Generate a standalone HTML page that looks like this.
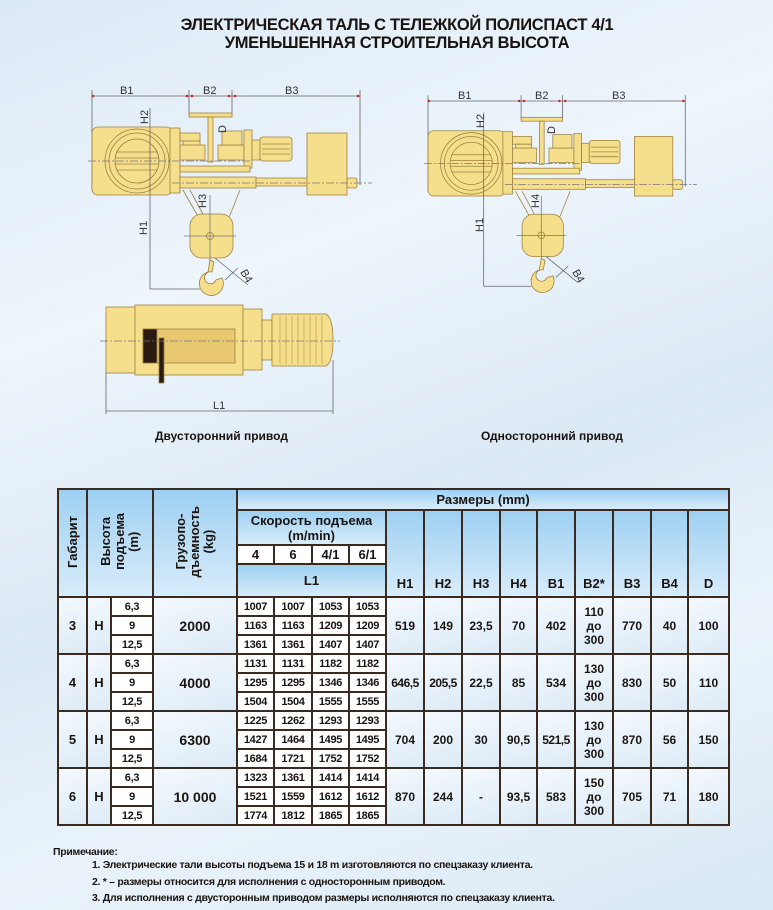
<!DOCTYPE html>
<html><head><meta charset="utf-8"><style>
body{margin:0;width:773px;height:910px;overflow:hidden;position:relative;font-family:"Liberation Sans",Arial,sans-serif;
background:linear-gradient(160deg,#dceaf6 0%,#eef5fb 30%,#dbe9f5 55%,#eaf3fa 75%,#d9e8f4 100%);}
.t{position:absolute;left:0;width:794px;text-align:center;font-weight:bold;font-size:16.5px;color:#1a1410;letter-spacing:-0.3px}
.cap{position:absolute;font-weight:bold;font-size:12px;color:#1a1410}
table{position:absolute;left:57px;top:488px;border-collapse:collapse;table-layout:fixed;width:671px}
td{border:2px solid #3a2a20;padding:0;text-align:center;font-size:12px;color:#1a1410;overflow:hidden;font-weight:bold}
.h{background:linear-gradient(#9ed0f2,#d8ecfa);font-weight:bold;font-size:13px}
.v{writing-mode:vertical-rl;transform:rotate(180deg);display:inline-block;line-height:14px;font-weight:bold;font-size:13px}
.b{background:linear-gradient(160deg,#f4f9fd,#dcebf7)}
.w{background:#fff;font-size:11px;letter-spacing:-0.3px}
.hb{vertical-align:bottom;padding-bottom:5px}
.n{position:absolute;left:88px;font-size:10.5px;color:#1a1410;font-weight:bold;letter-spacing:-0.3px;white-space:nowrap}
</style></head><body>
<div class="t" style="top:16px">ЭЛЕКТРИЧЕСКАЯ ТАЛЬ С ТЕЛЕЖКОЙ ПОЛИСПАСТ 4/1</div>
<div class="t" style="top:34px">УМЕНЬШЕННАЯ СТРОИТЕЛЬНАЯ ВЫСОТА</div>

<svg width="773" height="480" style="position:absolute;left:0;top:0" font-family="Liberation Sans,Arial,sans-serif">
<defs>
<g id="hoist" stroke="#9c8040" stroke-width="0.8" fill="#f6df8c">
 <line x1="92" y1="96" x2="360" y2="96" stroke="#666"/>
 <line x1="92" y1="90" x2="92" y2="190" stroke="#666"/>
 <line x1="189" y1="90" x2="189" y2="115" stroke="#666"/>
 <line x1="232" y1="90" x2="232" y2="115" stroke="#666"/>
 <line x1="360" y1="90" x2="360" y2="185" stroke="#666"/>
 <circle cx="93" cy="96" r="1.3" fill="#d02020" stroke="none"/><circle cx="187" cy="96" r="1.3" fill="#d02020" stroke="none"/>
 <circle cx="192" cy="96" r="1.3" fill="#d02020" stroke="none"/><circle cx="229" cy="96" r="1.3" fill="#d02020" stroke="none"/>
 <circle cx="235" cy="96" r="1.3" fill="#d02020" stroke="none"/><circle cx="358" cy="96" r="1.3" fill="#d02020" stroke="none"/>
 <rect x="189" y="113" width="43" height="4"/>
 <rect x="208" y="117" width="5" height="45"/>
 <rect x="92" y="127" width="80" height="68" rx="6"/>
 <circle cx="137" cy="161" r="32"/><circle cx="137" cy="161" r="28" fill="none"/><circle cx="137" cy="161" r="22"/>
 <line x1="117" y1="152" x2="157" y2="152"/><line x1="115" y1="158" x2="159" y2="158"/><line x1="115" y1="164" x2="159" y2="164"/><line x1="117" y1="170" x2="157" y2="170"/>
 <rect x="170" y="128" width="10" height="65"/>
 <rect x="180" y="133" width="20" height="8"/><rect x="183" y="141" width="17" height="18"/>
 <rect x="180" y="145" width="25" height="15"/>
 <rect x="218" y="145" width="26" height="15"/><rect x="222" y="131" width="20" height="14"/>
 <rect x="244" y="130" width="8" height="38"/>
 <rect x="252" y="140" width="8" height="20"/>
 <rect x="260" y="137" width="32" height="24" rx="3"/>
 <line x1="262" y1="149" x2="290" y2="149"/><line x1="262" y1="144" x2="290" y2="144"/><line x1="262" y1="154" x2="290" y2="154"/>
 <rect x="180" y="166" width="70" height="6"/>
 <rect x="180" y="177" width="76" height="11"/>
 <rect x="256" y="178" width="52" height="8"/>
 <rect x="307" y="133" width="40" height="62"/>
 <rect x="347" y="178" width="10" height="10" rx="2"/>
 <line x1="172" y1="183" x2="372" y2="183" stroke="#777" stroke-dasharray="8 2 2 2"/>
 <line x1="88" y1="161" x2="250" y2="161" stroke="#777" stroke-dasharray="8 2 2 2"/>
 <line x1="183" y1="190" x2="200" y2="220" /><line x1="190" y1="190" x2="205" y2="218"/>
 <line x1="240" y1="190" x2="228" y2="220"/>
 <rect x="190" y="214" width="43" height="44" rx="12"/>
 <circle cx="210" cy="236" r="3.5"/>
 <line x1="184" y1="236" x2="236" y2="236" stroke="#777"/>
 <line x1="210" y1="195" x2="210" y2="260" stroke="#777"/>
 <line x1="150" y1="108" x2="150" y2="289" stroke="#666"/>
 <line x1="150" y1="289" x2="200" y2="289" stroke="#666"/>
 <path d="M210 260 L208 272 A12 12 0 1 0 222 278 L216 280 A6 6 0 1 1 212 272 L214 262 Z"/>
 <line x1="215" y1="258" x2="248" y2="285" stroke="#666"/>
 <line x1="225" y1="280" x2="238" y2="268" stroke="#666"/>
</g>
</defs>
<use href="#hoist"/>
<text x="120" y="94" font-size="11" fill="#333">B1</text>
<text x="203" y="94" font-size="11" fill="#333">B2</text>
<text x="285" y="94" font-size="11" fill="#333">B3</text>
<text x="148" y="124" font-size="11" fill="#333" transform="rotate(-90 148 124)">H2</text>
<text x="147" y="235" font-size="11" fill="#333" transform="rotate(-90 147 235)">H1</text>
<text x="206" y="208" font-size="11" fill="#333" transform="rotate(-90 206 208)">H3</text>
<text x="226" y="133" font-size="11" fill="#333" transform="rotate(-90 226 133)">D</text>
<text x="240" y="272" font-size="11" fill="#333" transform="rotate(60 240 272)">B4</text>
<g transform="translate(428 101) scale(0.96) translate(-92 -96)"><use href="#hoist"/></g>
<text x="458" y="99" font-size="11" fill="#333">B1</text>
<text x="535" y="99" font-size="11" fill="#333">B2</text>
<text x="612" y="99" font-size="11" fill="#333">B3</text>
<text x="484" y="128" font-size="11" fill="#333" transform="rotate(-90 484 128)">H2</text>
<text x="483" y="232" font-size="11" fill="#333" transform="rotate(-90 483 232)">H1</text>
<text x="539" y="208" font-size="11" fill="#333" transform="rotate(-90 539 208)">H4</text>
<text x="555" y="134" font-size="11" fill="#333" transform="rotate(-90 555 134)">D</text>
<text x="572" y="272" font-size="11" fill="#333" transform="rotate(60 572 272)">B4</text>
<g stroke="#9c8040" stroke-width="0.8" fill="#f6df8c">
 <rect x="106" y="307" width="30" height="66"/>
 <rect x="135" y="305" width="108" height="70"/>
 <rect x="143" y="329" width="92" height="34" fill="#e8c870"/>
 <rect x="143" y="329" width="14" height="34" fill="#2a1a10"/>
 <rect x="159" y="338" width="5" height="45" fill="#2a1a10"/>
 <rect x="243" y="309" width="19" height="61"/>
 <rect x="262" y="320" width="10" height="40"/>
 <path d="M272 314 H326 Q333 318 333 340 Q333 362 326 366 H272 Z"/>
 <line x1="100" y1="341" x2="340" y2="341" stroke="#777" stroke-dasharray="8 2 2 2"/>
 <line x1="106" y1="373" x2="106" y2="414" stroke="#666"/>
 <line x1="333" y1="360" x2="333" y2="414" stroke="#666"/>
 <line x1="106" y1="411" x2="333" y2="411" stroke="#666"/>
</g>
<g stroke="#b89040" stroke-width="0.6">
<line x1="280" y1="316" x2="280" y2="364"/><line x1="286" y1="316" x2="286" y2="364"/><line x1="292" y1="316" x2="292" y2="364"/><line x1="298" y1="316" x2="298" y2="364"/><line x1="304" y1="316" x2="304" y2="364"/><line x1="310" y1="316" x2="310" y2="364"/><line x1="316" y1="316" x2="316" y2="364"/><line x1="322" y1="316" x2="322" y2="364"/>
</g>
<text x="213" y="409" font-size="11" fill="#333">L1</text>
</svg>
<div class="cap" style="left:155px;top:429px">Двусторонний привод</div>
<div class="cap" style="left:481px;top:429px">Односторонний привод</div>

<table>
<colgroup><col style="width:29px"><col style="width:24px"><col style="width:42px"><col style="width:84px"><col style="width:37px"><col style="width:38px"><col style="width:37px"><col style="width:37px"><col style="width:38px"><col style="width:38px"><col style="width:38px"><col style="width:37px"><col style="width:38px"><col style="width:38px"><col style="width:38px"><col style="width:37px"><col style="width:41px"></colgroup>
<tr style="height:21px"><td class="h" rowspan="4"><span class="v">Габарит</span></td><td class="h" colspan="2" rowspan="4"><span class="v">Высота<br>подъема<br>(m)</span></td><td class="h" rowspan="4"><span class="v">Грузопо-<br>дъемность<br>(kg)</span></td><td class="h" colspan="13">Размеры (mm)</td></tr>
<tr style="height:35px"><td class="h" colspan="4" style="line-height:15px">Скорость подъема<br>(m/min)</td><td class="h hb" rowspan="3">H1</td><td class="h hb" rowspan="3">H2</td><td class="h hb" rowspan="3">H3</td><td class="h hb" rowspan="3">H4</td><td class="h hb" rowspan="3">B1</td><td class="h hb" rowspan="3">B2*</td><td class="h hb" rowspan="3">B3</td><td class="h hb" rowspan="3">B4</td><td class="h hb" rowspan="3">D</td></tr>
<tr style="height:19px"><td class="h" style="background:#fff">4</td><td class="h" style="background:#fff">6</td><td class="h" style="background:#fff">4/1</td><td class="h" style="background:#fff">6/1</td></tr>
<tr style="height:33px"><td class="h" colspan="4">L1</td></tr>

<tr style="height:19px"><td class="b" rowspan="3" style="font-size:13px">3</td><td class="b" rowspan="3" style="font-size:13px">H</td><td class="w">6,3</td><td class="b" rowspan="3" style="font-size:14px">2000</td><td class="w">1007</td><td class="w">1007</td><td class="w">1053</td><td class="w">1053</td><td class="b" rowspan="3">519</td><td class="b" rowspan="3">149</td><td class="b" rowspan="3">23,5</td><td class="b" rowspan="3">70</td><td class="b" rowspan="3">402</td><td class="b" rowspan="3" style="line-height:14px">110<br>до<br>300</td><td class="b" rowspan="3">770</td><td class="b" rowspan="3">40</td><td class="b" rowspan="3">100</td></tr>
<tr style="height:19px"><td class="w">9</td><td class="w">1163</td><td class="w">1163</td><td class="w">1209</td><td class="w">1209</td></tr>
<tr style="height:19px"><td class="w">12,5</td><td class="w">1361</td><td class="w">1361</td><td class="w">1407</td><td class="w">1407</td></tr>

<tr style="height:19px"><td class="b" rowspan="3" style="font-size:13px">4</td><td class="b" rowspan="3" style="font-size:13px">H</td><td class="w">6,3</td><td class="b" rowspan="3" style="font-size:14px">4000</td><td class="w">1131</td><td class="w">1131</td><td class="w">1182</td><td class="w">1182</td><td class="b" rowspan="3" style="letter-spacing:-0.5px">646,5</td><td class="b" rowspan="3" style="letter-spacing:-0.5px">205,5</td><td class="b" rowspan="3">22,5</td><td class="b" rowspan="3">85</td><td class="b" rowspan="3">534</td><td class="b" rowspan="3" style="line-height:14px">130<br>до<br>300</td><td class="b" rowspan="3">830</td><td class="b" rowspan="3">50</td><td class="b" rowspan="3">110</td></tr>
<tr style="height:19px"><td class="w">9</td><td class="w">1295</td><td class="w">1295</td><td class="w">1346</td><td class="w">1346</td></tr>
<tr style="height:19px"><td class="w">12,5</td><td class="w">1504</td><td class="w">1504</td><td class="w">1555</td><td class="w">1555</td></tr>

<tr style="height:19px"><td class="b" rowspan="3" style="font-size:13px">5</td><td class="b" rowspan="3" style="font-size:13px">H</td><td class="w">6,3</td><td class="b" rowspan="3" style="font-size:14px">6300</td><td class="w">1225</td><td class="w">1262</td><td class="w">1293</td><td class="w">1293</td><td class="b" rowspan="3">704</td><td class="b" rowspan="3">200</td><td class="b" rowspan="3">30</td><td class="b" rowspan="3">90,5</td><td class="b" rowspan="3" style="letter-spacing:-0.5px">521,5</td><td class="b" rowspan="3" style="line-height:14px">130<br>до<br>300</td><td class="b" rowspan="3">870</td><td class="b" rowspan="3">56</td><td class="b" rowspan="3">150</td></tr>
<tr style="height:19px"><td class="w">9</td><td class="w">1427</td><td class="w">1464</td><td class="w">1495</td><td class="w">1495</td></tr>
<tr style="height:19px"><td class="w">12,5</td><td class="w">1684</td><td class="w">1721</td><td class="w">1752</td><td class="w">1752</td></tr>

<tr style="height:19px"><td class="b" rowspan="3" style="font-size:13px">6</td><td class="b" rowspan="3" style="font-size:13px">H</td><td class="w">6,3</td><td class="b" rowspan="3" style="font-size:14px">10 000</td><td class="w">1323</td><td class="w">1361</td><td class="w">1414</td><td class="w">1414</td><td class="b" rowspan="3">870</td><td class="b" rowspan="3">244</td><td class="b" rowspan="3">-</td><td class="b" rowspan="3">93,5</td><td class="b" rowspan="3">583</td><td class="b" rowspan="3" style="line-height:14px">150<br>до<br>300</td><td class="b" rowspan="3">705</td><td class="b" rowspan="3">71</td><td class="b" rowspan="3">180</td></tr>
<tr style="height:19px"><td class="w">9</td><td class="w">1521</td><td class="w">1559</td><td class="w">1612</td><td class="w">1612</td></tr>
<tr style="height:19px"><td class="w">12,5</td><td class="w">1774</td><td class="w">1812</td><td class="w">1865</td><td class="w">1865</td></tr>
</table>

<div class="n" style="left:53px;top:846px">Примечание:</div>
<div class="n" style="left:92px;top:859px">1. Электрические тали высоты подъема 15 и 18 m изготовляются по спецзаказу клиента.</div>
<div class="n" style="left:92px;top:876px">2. * – размеры относится для исполнения с односторонным приводом.</div>
<div class="n" style="left:92px;top:892px">3.  Для исполнения с двусторонным приводом размеры исполняются по спецзаказу клиента.</div>
</body></html>
